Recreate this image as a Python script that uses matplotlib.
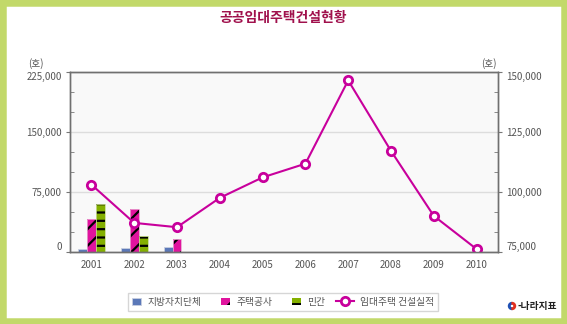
import matplotlib
matplotlib.use('Agg')
import matplotlib.pyplot as plt
import numpy as np
from matplotlib.patches import Rectangle, Wedge
from matplotlib.ticker import FixedLocator, MultipleLocator
from matplotlib.legend_handler import HandlerLine2D

plt.rcParams['font.family'] = ['Noto Sans CJK KR', 'DejaVu Sans']
plt.rcParams['hatch.linewidth'] = 1.6

years = ['2001', '2002', '2003', '2004', '2005', '2006', '2007', '2008', '2009', '2010']
local_gov = [3200, 4500, 5700, 0, 0, 0, 0, 0, 0, 0]        # 지방자치단체
housing_corp = [41000, 53400, 15700, 0, 0, 0, 0, 0, 0, 0]  # 주택공사
private = [59700, 20300, 0, 0, 0, 0, 0, 0, 0, 0]           # 민간
rental_total = [103000, 87100, 85300, 97500, 106000, 111700, 146300, 117000, 90000, 76200]  # 임대주택 건설실적

left_ticks = [0, 75000, 150000, 225000]
right_ticks = [75000, 100000, 125000, 150000]


class LongLine(HandlerLine2D):
    # stretch the line handle to the left so it runs through the marker
    def create_artists(self, legend, orig_handle, xdescent, ydescent, width, height, fontsize, trans):
        extra = width * 0.9
        return super().create_artists(legend, orig_handle, xdescent + extra, ydescent,
                                      width + extra, height, fontsize, trans)


fig = plt.figure(figsize=(5.67, 3.24), dpi=100)
fig.patch.set_facecolor('white')

# green frame
fig.add_artist(Rectangle((0, 0), 1, 1, transform=fig.transFigure, fill=False,
                         edgecolor='#c2d96a', linewidth=9))

ax = fig.add_axes([70/567, 1-252/324, 428/567, 180.5/324])
ax.set_facecolor('#f9f9f9')
ax2 = ax.twinx()

x = np.arange(len(years))
w = 0.21
ax.bar(x - w, local_gov, w, color='#5b78b8', edgecolor='#c8cfe0', linewidth=0.6, label='지방자치단체')
ax.bar(x, housing_corp, w, color='#e0149e', edgecolor='black', linewidth=0, hatch='//', label='주택공사')
ax.bar(x, housing_corp, w, fill=False, edgecolor='#e8a0d0', linewidth=0.6)
ax.bar(x + w, private, w, color='#84b000', edgecolor='black', linewidth=0, hatch='--', label='민간')
ax.bar(x + w, private, w, fill=False, edgecolor='#c8dc90', linewidth=0.6)

line, = ax2.plot(x, rental_total, color='#c8009c', linewidth=1.5, marker='o', markersize=6,
                 markerfacecolor='white', markeredgewidth=2, label='임대주택 건설실적')

ax.set_xlim(-0.5, 9.5)
ax.set_ylim(0, 225000)
ax2.set_ylim(75000, 150000)
ax.set_xticks(x)
ax.set_xticklabels(years)

ax.yaxis.set_major_locator(FixedLocator(left_ticks))
ax.yaxis.set_minor_locator(MultipleLocator(25000))
ax2.yaxis.set_major_locator(FixedLocator(right_ticks))
ax2.yaxis.set_minor_locator(MultipleLocator(25000 / 3))
ax.set_yticklabels([f'{v:,}' for v in left_ticks])
ax2.set_yticklabels([f'{v:,}' for v in right_ticks])

for a in (ax, ax2):
    a.tick_params(axis='both', which='major', labelsize=7, labelcolor='#555555', color='#777777', length=3, pad=3)
    a.tick_params(axis='y', which='minor', direction='in', length=3, color='#777777')
    for s in a.spines.values():
        s.set_color('#707070')
        s.set_linewidth(1)
ax.tick_params(axis='x', length=0, pad=6)
ax.grid(axis='y', which='major', color='#dddddd', linewidth=1)
ax.set_axisbelow(True)

# end labels sit inside the range
lt = ax.yaxis.get_major_ticks()
lt[0].label1.set_va('bottom')
lt[-1].label1.set_va('top')
rt = ax2.yaxis.get_major_ticks()
rt[0].label2.set_va('bottom')
rt[-1].label2.set_va('top')

fig.text(0.5, 1-18/324, '공공임대주택건설현황', ha='center', va='center', fontsize=10,
         fontweight='bold', color='#a0104c')
fig.text(36/567, 1-64/324, '(호)', ha='center', va='center', fontsize=7, color='#555555')
fig.text(489/567, 1-64/324, '(호)', ha='center', va='center', fontsize=7, color='#555555')

h1, l1 = ax.get_legend_handles_labels()
h2, l2 = ax2.get_legend_handles_labels()
leg = fig.legend(h1 + h2, l1 + l2, loc='center', bbox_to_anchor=(283/567, 1-302/324), ncol=4,
                 fontsize=7, frameon=True, fancybox=False, edgecolor='#cccccc',
                 handlelength=1.0, handleheight=0.8, columnspacing=2.0, handletextpad=0.6,
                 borderpad=0.4, handler_map={line: LongLine()})
for t in leg.get_texts():
    t.set_color('#555555')

# 나라지표 logo
cx, cy, r = 512/100, (324-306)/100, 0.035
fig.add_artist(Wedge((cx, cy), r, 90, 270, width=0.015, color='#1e50b4', transform=fig.dpi_scale_trans))
fig.add_artist(Wedge((cx, cy), r, -90, 90, width=0.015, color='#e03020', transform=fig.dpi_scale_trans))
fig.text(518/567, 1-306/324, '-나라지표', ha='left', va='center', fontsize=7, fontweight='bold', color='#222222')

fig.savefig('out.png', dpi=100)
